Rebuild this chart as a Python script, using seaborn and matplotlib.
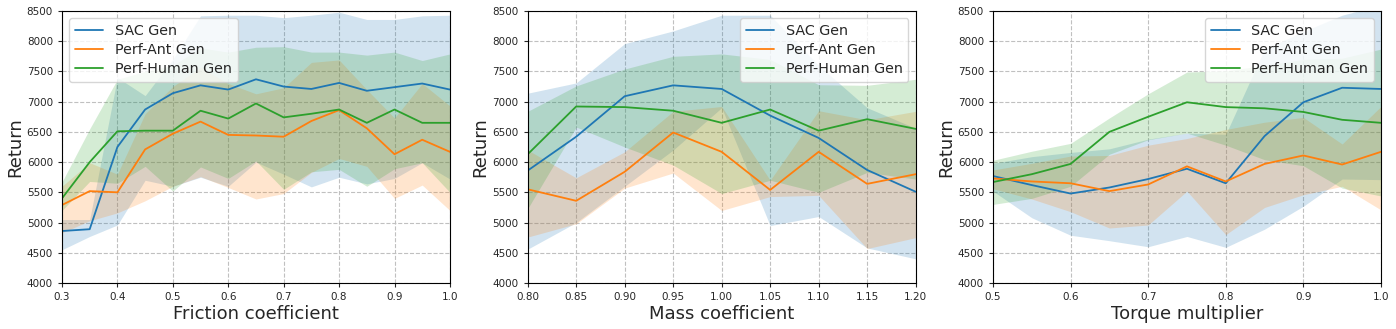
import numpy as np
import pandas as pd
import seaborn as sns
import matplotlib
matplotlib.use("Agg")
import matplotlib.pyplot as plt

labels = ['SAC Gen', 'Perf-Ant Gen', 'Perf-Human Gen']

# Friction coefficient
fric_x = [0.3, 0.35, 0.4, 0.45, 0.5, 0.55, 0.6, 0.65, 0.7, 0.75, 0.8, 0.85, 0.9, 0.95, 1.0]
fric_sac = [4860, 4890, 6250, 6870, 7140, 7270, 7200, 7370, 7250, 7210, 7310, 7180, 7240, 7300, 7200]
fric_sac_hi = [5050, 5050, 7400, 7100, 7700, 8420, 8430, 8430, 8390, 8430, 8480, 8360, 8360, 8420, 8430]
fric_sac_lo = [4550, 4770, 4960, 5700, 5600, 5750, 5600, 6000, 5800, 5590, 5750, 5640, 5730, 5990, 5720]
fric_ant = [5290, 5520, 5500, 6210, 6470, 6670, 6450, 6440, 6420, 6680, 6860, 6560, 6130, 6370, 6170]
fric_ant_hi = [5600, 5990, 5800, 6800, 7250, 7570, 7300, 7130, 7230, 7650, 7690, 7200, 6730, 7300, 6930]
fric_ant_lo = [4830, 5030, 5160, 5360, 5600, 5760, 5580, 5390, 5480, 5830, 6060, 5930, 5400, 5620, 5200]
fric_hum = [5400, 6000, 6510, 6520, 6520, 6850, 6720, 6970, 6740, 6800, 6870, 6650, 6870, 6650, 6650]
fric_hum_hi = [5670, 6550, 7370, 7500, 7600, 7890, 7820, 7900, 7910, 7820, 7820, 7770, 7820, 7680, 7790]
fric_hum_lo = [5200, 5680, 5650, 5930, 5520, 5920, 5730, 6020, 5550, 5840, 5880, 5600, 5890, 5990, 5500]

# Mass coefficient
mass_x = [0.80, 0.85, 0.90, 0.95, 1.00, 1.05, 1.10, 1.15, 1.20]
mass_sac = [5860, 6420, 7090, 7270, 7210, 6770, 6400, 5870, 5510]
mass_sac_hi = [7140, 7310, 7960, 8170, 8430, 8430, 7600, 6900, 6560]
mass_sac_lo = [4560, 5000, 5600, 6200, 6900, 4950, 5100, 4580, 4400]
mass_ant = [5550, 5360, 5840, 6490, 6170, 5540, 6170, 5640, 5800]
mass_ant_hi = [6200, 5740, 6170, 6840, 6920, 5700, 6850, 6700, 6840]
mass_ant_lo = [4760, 4980, 5570, 5820, 5200, 5430, 5450, 4570, 4750]
mass_hum = [6130, 6920, 6910, 6850, 6650, 6870, 6520, 6710, 6550]
mass_hum_hi = [6840, 7260, 7540, 7750, 7790, 7700, 7280, 7270, 7370]
mass_hum_lo = [5230, 6580, 6250, 5950, 5480, 5700, 5500, 5830, 5720]

# Torque multiplier
torq_x = [0.5, 0.55, 0.6, 0.65, 0.7, 0.75, 0.8, 0.85, 0.9, 0.95, 1.0]
torq_sac = [5770, 5620, 5480, 5580, 5720, 5890, 5650, 6430, 6990, 7230, 7210]
torq_sac_hi = [5980, 6090, 6160, 6220, 6380, 6480, 6460, 7870, 8160, 8430, 8600]
torq_sac_lo = [5520, 5080, 4790, 4700, 4600, 4770, 4590, 4890, 5270, 5720, 5710]
torq_ant = [5730, 5680, 5650, 5520, 5630, 5930, 5680, 5970, 6110, 5960, 6170]
torq_ant_hi = [5870, 5980, 6100, 6110, 6280, 6390, 6540, 6660, 6740, 6300, 6920]
torq_ant_lo = [5560, 5390, 5180, 4910, 4960, 5520, 4800, 5250, 5460, 5600, 5210]
torq_hum = [5670, 5800, 5970, 6500, 6750, 6990, 6910, 6890, 6830, 6700, 6650]
torq_hum_hi = [6030, 6180, 6310, 6730, 7130, 7490, 7510, 7600, 7700, 7720, 7870]
torq_hum_lo = [5300, 5400, 5600, 6130, 6370, 6480, 6280, 6040, 5940, 5570, 5440]

panels = [
    ('Friction coefficient', fric_x,
     [(fric_sac, fric_sac_lo, fric_sac_hi), (fric_ant, fric_ant_lo, fric_ant_hi), (fric_hum, fric_hum_lo, fric_hum_hi)],
     [0.3, 0.4, 0.5, 0.6, 0.7, 0.8, 0.9, 1.0], '%.1f', 'upper left'),
    ('Mass coefficient', mass_x,
     [(mass_sac, mass_sac_lo, mass_sac_hi), (mass_ant, mass_ant_lo, mass_ant_hi), (mass_hum, mass_hum_lo, mass_hum_hi)],
     mass_x, '%.2f', 'upper right'),
    ('Torque multiplier', torq_x,
     [(torq_sac, torq_sac_lo, torq_sac_hi), (torq_ant, torq_ant_lo, torq_ant_hi), (torq_hum, torq_hum_lo, torq_hum_hi)],
     [0.5, 0.6, 0.7, 0.8, 0.9, 1.0], '%.1f', 'upper right'),
]

sns.set_style("white")
plt.rcParams['font.family'] = ['DejaVu Sans']
colors = sns.color_palette('tab10', 3)

fig = plt.figure(figsize=(13.96, 3.29), dpi=100)
lefts = [0.0444, 0.378, 0.7113]
for left, (xlabel, xs, series, xticks, fmt, loc) in zip(lefts, panels):
    ax = fig.add_axes([left, 0.1398, 0.2779, 0.8268])
    for (mean, lo, hi), lab, col in zip(series, labels, colors):
        df = pd.DataFrame({'x': xs, 'y': mean})
        sns.lineplot(data=df, x='x', y='y', ax=ax, color=col, label=lab, linewidth=1.3)
        ax.fill_between(xs, lo, hi, color=col, alpha=0.2, linewidth=0)
    ax.set_xlim(xs[0], xs[-1])
    ax.set_ylim(4000, 8500)
    ax.set_xticks(xticks)
    ax.xaxis.set_major_formatter(matplotlib.ticker.FormatStrFormatter(fmt))
    ax.set_yticks(np.arange(4000, 8501, 500))
    ax.tick_params(labelsize=7.5, length=3, direction='out', bottom=True, left=True)
    ax.grid(True, linestyle='--', color='#c0c0c0', linewidth=0.8)
    for s in ax.spines.values():
        s.set_color('black')
        s.set_linewidth(0.8)
    ax.set_xlabel(xlabel, fontsize=13, labelpad=2)
    ax.set_ylabel('Return', fontsize=13, labelpad=2)
    ax.legend(loc=loc, fontsize=10.3, framealpha=0.8, labelspacing=0.35)

fig.savefig('out.png', dpi=100)
